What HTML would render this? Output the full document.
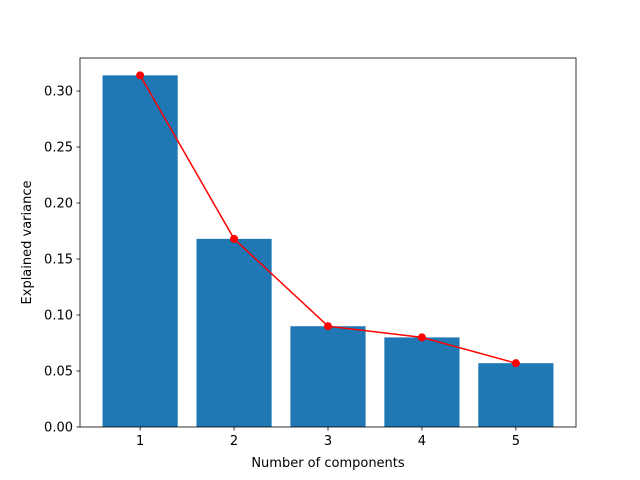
<!DOCTYPE html>
<html><head><meta charset="utf-8"><style>body{margin:0;background:#fff}svg{display:block;font-family:"DejaVu Sans","Liberation Sans",sans-serif}</style></head>
<body>
<svg id="chart" width="640" height="480" xmlns="http://www.w3.org/2000/svg"></svg>
<script>
const categories = [1, 2, 3, 4, 5];
const variance = [0.314, 0.168, 0.090, 0.080, 0.057];
const yTicks = [0, 0.05, 0.10, 0.15, 0.20, 0.25, 0.30];
const yTickLabels = ["0.00","0.05","0.10","0.15","0.20","0.25","0.30"];
const NS = "http://www.w3.org/2000/svg";
const svg = document.getElementById("chart");
const L=80,R=576,T=58,B=427;
const xMin=0.36,xMax=5.64,yMin=0,yMax=0.3295;
const xs=v=>L+(v-xMin)/(xMax-xMin)*(R-L);
const ys=v=>B-(v-yMin)/(yMax-yMin)*(B-T);
function mk(tag,attrs,parent){const e=document.createElementNS(NS,tag);for(const k in attrs)e.setAttribute(k,attrs[k]);(parent||svg).appendChild(e);return e;}
const bars=mk("g",{});


categories.forEach((c,i)=>{
  const x0=xs(c-0.4),x1=xs(c+0.4);
  const r=mk("rect",{x:x0,y:ys(variance[i]),width:x1-x0,height:ys(0)-ys(variance[i]),fill:"#1f77b4"},bars);
  
  
});
const line=mk("polyline",{points:categories.map((c,i)=>xs(c)+","+ys(variance[i])).join(" "),fill:"none",stroke:"#ff0000","stroke-width":1.5});


categories.forEach((c,i)=>{
  const p=mk("circle",{cx:xs(c),cy:ys(variance[i]),r:4,fill:"#ff0000"});
  
  
});
const frame=mk("rect",{x:L,y:T,width:R-L,height:B-T,fill:"none",stroke:"#000","stroke-width":0.8});


categories.forEach(c=>{
  const x=xs(c);
  mk("line",{x1:x,x2:x,y1:B,y2:B+3.5,stroke:"#000","stroke-width":0.8});
  const t=mk("text",{x:x,y:B+18,"text-anchor":"middle","font-size":13});
  t.textContent=c;
  
  
});
yTicks.forEach((v,i)=>{
  const y=ys(v);
  mk("line",{x1:L-3.5,x2:L,y1:y,y2:y,stroke:"#000","stroke-width":0.8});
  const t=mk("text",{x:L-7,y:y+4.5,"text-anchor":"end","font-size":13});
  t.textContent=yTickLabels[i];
  
  
});
const xt=mk("text",{x:(L+R)/2,y:467,"text-anchor":"middle","font-size":13});
xt.textContent="Number of components";


const yt=mk("text",{x:0,y:0,"text-anchor":"middle","font-size":13,transform:"translate(31,"+((T+B)/2)+") rotate(-90)"});
yt.textContent="Explained variance";


</script>
</body></html>
